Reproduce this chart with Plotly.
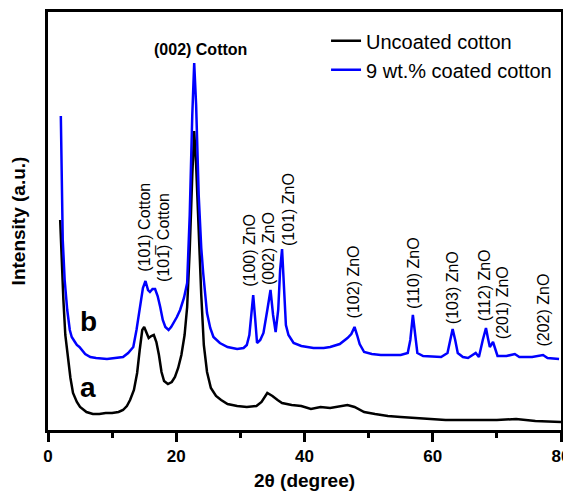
import plotly.graph_objects as go

# ---------------- data (2θ in degrees, intensity in arbitrary units) ----------------
theta_a = [1.9, 2.1, 2.4, 2.7, 3.0, 3.5, 3.9, 4.5, 5.0, 6.0, 7.0, 8.0, 9.0, 10.0, 11.0, 11.7,
           12.3, 12.8, 13.4, 13.9, 14.3, 14.7, 15.0, 15.3, 15.7, 16.1, 16.5, 16.9, 17.3, 17.7,
           18.1, 18.7, 19.3, 19.8, 20.3, 20.8, 21.3, 21.7, 22.1, 22.5, 22.8, 23.1, 23.5, 23.9,
           24.3, 24.8, 25.4, 26.2, 27.0, 28.0, 29.5, 31.0, 32.5, 33.3, 34.2, 35.0, 35.8, 36.5,
           38.0, 39.5, 41.0, 42.5, 44.0, 45.5, 46.7, 47.8, 49.3, 51.0, 53.0, 55.0, 58.0, 62.0,
           66.0, 70.0, 73.0, 76.0, 80.0]
py_a = [220, 260, 300, 335, 352, 378, 393, 402, 407, 412, 414, 414, 413, 413, 412, 410,
        406, 400, 390, 373, 350, 330, 327, 332, 338, 336, 335, 342, 355, 372,
        381, 384, 382, 377, 368, 355, 335, 307, 250, 175, 131, 165, 235, 295,
        345, 372, 388, 396, 400, 404, 406, 407, 406, 402, 393, 396, 400, 403,
        405, 406, 409, 407, 408, 406, 405, 407, 412, 414, 416, 417, 418, 420,
        420, 420, 419, 421, 422]

theta_b = [2.0, 2.15, 2.3, 2.6, 3.0, 3.4, 3.7, 4.2, 4.5, 4.9, 5.3, 5.8, 6.6, 7.5, 9.2, 10.5,
           11.7, 12.5, 13.3, 13.8, 14.4, 14.8, 15.2, 15.6, 15.9, 16.3, 16.7, 17.1, 17.5, 17.9,
           18.3, 18.8, 19.2, 19.6, 20.1, 20.6, 21.2, 21.7, 22.1, 22.5, 22.8, 23.1, 23.5, 23.9,
           24.2, 24.8, 25.3, 25.8, 26.8, 28.0, 29.5, 30.5, 31.0, 31.4, 31.7, 32.0, 32.3, 32.6,
           33.1, 33.6, 34.2, 34.7, 35.1, 35.5, 35.9, 36.2, 36.5, 36.8, 37.1, 37.5, 38.3, 39.5,
           41.4, 43.0, 44.0, 45.5, 46.7, 47.3, 47.8, 48.2, 48.6, 49.3, 50.5, 51.9, 55.0, 56.1,
           56.5, 56.9, 57.3, 57.6, 58.5, 61.3, 62.3, 62.7, 63.1, 63.5, 63.9, 64.7, 65.5, 66.7,
           67.2, 67.8, 68.3, 68.6, 68.9, 69.4, 69.8, 70.1, 71.5, 72.8, 73.5, 75.5, 77.2, 77.9,
           79.7]
py_b = [116, 200, 240, 280, 310, 330, 337, 342, 345, 347, 350, 354, 357, 358, 359, 358,
        357, 353, 347, 330, 307, 288, 281, 290, 292, 289, 289, 296, 307, 320,
        327, 330, 327, 323, 317, 310, 298, 283, 215, 115, 63, 105, 195, 248,
        273, 313, 328, 337, 343, 347, 349, 348, 345, 335, 315, 295, 318, 343,
        340, 333, 310, 290, 315, 332, 310, 270, 249, 290, 325, 335, 343, 346,
        348, 348, 347, 344, 338, 334, 327, 335, 344, 352, 354, 355, 355, 353,
        340, 315, 335, 353, 356, 357, 353, 342, 329, 340, 353, 357, 358, 353,
        357, 340, 328, 338, 347, 342, 350, 356, 356, 354, 357, 357, 355, 358,
        359]

# convert read-off picture heights into intensity (a.u.)
int_a = [430 - v for v in py_a]
int_b = [430 - v for v in py_b]

series_names = ["Uncoated cotton", "9 wt.% coated cotton"]
series_colors = ["#000000", "#0000FF"]

peak_labels = ["(101) Cotton", "(101\u0305) Cotton", "(100) ZnO", "(002) ZnO", "(101) ZnO",
               "(102) ZnO", "(110) ZnO", "(103) ZnO", "(112) ZnO", "(201) ZnO", "(202) ZnO"]
peak_label_x = [15.0, 18.0, 31.4, 34.4, 37.5, 47.7, 57.0, 63.1, 68.1, 70.9, 77.2]
peak_label_y = [202.5, 192.5, 179.5, 181.5, 220.5, 148.5, 156.5, 142.5, 144.5, 127.5, 119.5]

x_ticks = [0, 20, 40, 60, 80]

FONT = "Liberation Sans, Arial, sans-serif"

fig = go.Figure()
fig.add_trace(go.Scatter(x=theta_a, y=int_a, mode="lines", name=series_names[0],
                         line=dict(color=series_colors[0], width=2.5)))
fig.add_trace(go.Scatter(x=theta_b, y=int_b, mode="lines", name=series_names[1],
                         line=dict(color=series_colors[1], width=2.5)))

annotations = []
for txt, x, y in zip(peak_labels, peak_label_x, peak_label_y):
    annotations.append(dict(x=x, y=y, xref="x", yref="y", text=txt, showarrow=False,
                            textangle=-90, font=dict(family=FONT, size=16, color="black")))
annotations.append(dict(x=23.75, y=381, xref="x", yref="y", text="(002) Cotton", showarrow=False,
                        font=dict(family=FONT, size=16, color="black", weight="bold")))
annotations.append(dict(x=6.25, y=109, xref="x", yref="y", text="b", showarrow=False,
                        font=dict(family=FONT, size=28, color="black", weight="bold")))
annotations.append(dict(x=6.25, y=43, xref="x", yref="y", text="a", showarrow=False,
                        font=dict(family=FONT, size=28, color="black", weight="bold")))

# the page body adds an 8px offset, so the figure is 8px smaller on each axis
fig.update_layout(
    width=563, height=483,
    margin=dict(l=40, r=10, t=4, b=61),
    paper_bgcolor="white", plot_bgcolor="white",
    font=dict(family=FONT, color="black"),
    showlegend=True,
    legend=dict(x=0.542, y=0.978, xanchor="left", yanchor="top", bgcolor="rgba(0,0,0,0)",
                font=dict(family=FONT, size=20, color="black"), tracegroupgap=0),
    annotations=annotations,
    xaxis=dict(range=[0, 80], tickvals=x_ticks, ticktext=[str(t) for t in x_ticks],
               ticks="outside", ticklen=9, tickwidth=2.5, tickcolor="black",
               minor=dict(dtick=10, tick0=0, ticks="outside", ticklen=5, tickwidth=2.5, tickcolor="black"),
               showline=True, linewidth=2.5, linecolor="black", mirror=True,
               showgrid=False, zeroline=False, automargin=False,
               tickfont=dict(family=FONT, size=17, color="black", weight="bold"),
               title=dict(text="2θ (degree)", standoff=26,
                          font=dict(family=FONT, size=19, color="black", weight="bold"))),
    yaxis=dict(range=[0, 418], showticklabels=False, ticks="",
               showline=True, linewidth=2.5, linecolor="black", mirror=True,
               showgrid=False, zeroline=False, automargin=False,
               title=dict(text="Intensity (a.u.)", standoff=16,
                          font=dict(family=FONT, size=19, color="black", weight="bold"))),
)

fig.write_html("out.html")
